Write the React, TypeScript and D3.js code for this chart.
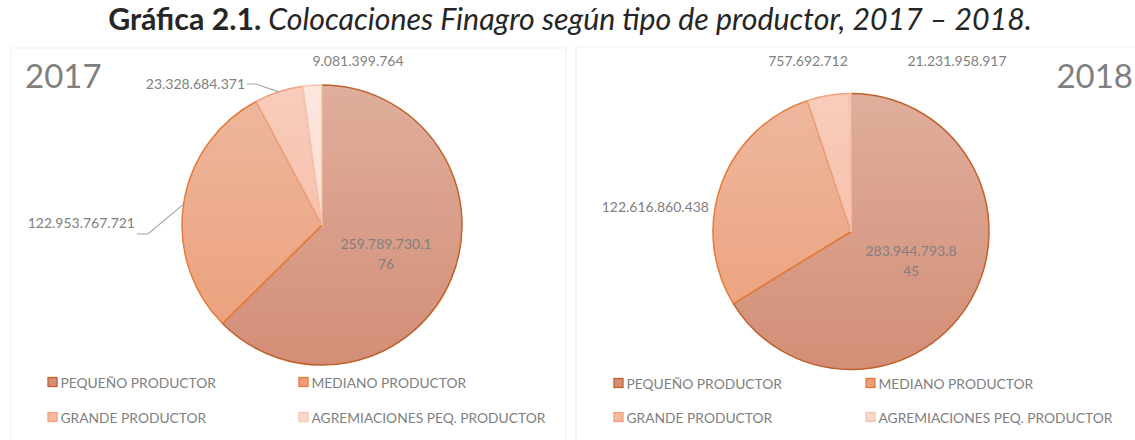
import React from "react";
import * as d3 from "d3";

const categories = [
  "PEQUEÑO PRODUCTOR",
  "MEDIANO PRODUCTOR",
  "GRANDE PRODUCTOR",
  "AGREMIACIONES PEQ. PRODUCTOR",
];
const values2017 = [259789730176, 122953767721, 23328684371, 9081399764];
const values2018 = [283944793845, 122616860438, 21231958917, 757692712];
const years = ["2017", "2018"];

const fillTop = ["#DFAE9C", "#EDB89F", "#F8CCBB", "#FCE6DE"];
const fillBottom = ["#D38E77", "#ED9E78", "#F6B8A0", "#FAD8CB"];
const strokes = ["#C0612B", "#E47B3A", "#EFA17F", "#F6C5B2"];

const fmt = (v: number) => d3.format(",")(v).replace(/,/g, ".");

type LabelCfg = {
  x: number;
  y: number;
  anchor: "start" | "middle" | "end";
  wrap?: boolean;
  leader?: [number, number][];
};

const charts = [
  {
    year: years[0],
    values: values2017,
    cx: 322,
    cy: 225,
    r: 140,
    frame: { x: 11, y: 48, w: 555, h: 400 },
    yearPos: { x: 25, y: 75, anchor: "start" as const },
    labels: [
      { x: 386, y: 253, anchor: "middle", wrap: true },
      { x: 135, y: 222, anchor: "end", leader: [[137, 234], [148, 234]] },
      { x: 245, y: 83, anchor: "end", leader: [[247, 84], [256, 84]] },
      { x: 358, y: 60, anchor: "middle" },
    ] as LabelCfg[],
    legend: { x1: 48, x2: 299, y1: 382, y2: 417 },
  },
  {
    year: years[1],
    values: values2018,
    cx: 851,
    cy: 231.5,
    r: 138,
    frame: { x: 576, y: 47, w: 570, h: 400 },
    yearPos: { x: 1133, y: 75, anchor: "end" as const },
    labels: [
      { x: 911, y: 260, anchor: "middle", wrap: true },
      { x: 709, y: 206, anchor: "end" },
      { x: 957, y: 60, anchor: "middle" },
      { x: 808, y: 60, anchor: "middle" },
    ] as LabelCfg[],
    legend: { x1: 614, x2: 866, y1: 383, y2: 417 },
  },
];

const labelColor = "#808080";
const font = "Lato, 'Open Sans', sans-serif";

function PieChart({ c, idx }: { c: (typeof charts)[number]; idx: number }) {
  const pie = d3
    .pie<number>()
    .sort(null)
    .value((d) => d)
    .startAngle(0)
    .endAngle(2 * Math.PI);
  const arcs = pie(c.values);
  const arc = d3.arc<d3.PieArcDatum<number>>().innerRadius(0).outerRadius(c.r);
  const edgeArc = d3
    .arc<d3.PieArcDatum<number>>()
    .innerRadius(c.r)
    .outerRadius(c.r);

  return (
    <g>
      <defs>
        {categories.map((_, i) => (
          <linearGradient
            key={i}
            id={`g${idx}-${i}`}
            gradientUnits="userSpaceOnUse"
            x1={0}
            y1={-c.r}
            x2={0}
            y2={c.r}
          >
            <stop offset="0" stopColor={fillTop[i]} />
            <stop offset="1" stopColor={fillBottom[i]} />
          </linearGradient>
        ))}
      </defs>
      <rect
        x={c.frame.x}
        y={c.frame.y}
        width={c.frame.w}
        height={c.frame.h}
        fill="none"
        stroke="#EFEFEF"
        strokeWidth={1}
      />
      <text
        x={c.yearPos.x}
        y={c.yearPos.y}
        textAnchor={c.yearPos.anchor}
        dominantBaseline="central"
        fontFamily={font}
        fontSize={33}
        fill="#7F7F7F"
      >
        {c.year}
      </text>
      <g transform={`translate(${c.cx},${c.cy})`}>
        {arcs.map((a, i) => (
          <path
            key={i}
            d={arc(a) || ""}
            fill={`url(#g${idx}-${i})`}
            stroke={strokes[i]}
            strokeWidth={1.5}
            strokeLinejoin="round"
          />
        ))}
      </g>
      {arcs.map((a, i) => {
        const L = c.labels[i];
        const s = fmt(c.values[i]);
        const lines = L.wrap ? [s.slice(0, 13), s.slice(13)] : [s];
        let leader = null;
        if (L.leader) {
          const [ex, ey] = edgeArc.centroid(a);
          const pts = [...L.leader, [c.cx + ex, c.cy + ey]] as [number, number][];
          leader = (
            <polyline
              points={pts.map((p) => p.join(",")).join(" ")}
              fill="none"
              stroke="#A6A6A6"
              strokeWidth={1.2}
            />
          );
        }
        return (
          <g key={i}>
            {leader}
            {lines.map((t, k) => (
              <text
                key={k}
                x={L.x}
                y={L.y + (lines.length > 1 ? (k - 0.5) * 20 : 0)}
                textAnchor={L.anchor}
                dominantBaseline="central"
                fontFamily={font}
                fontSize={14}
                fill={labelColor}
              >
                {t}
              </text>
            ))}
          </g>
        );
      })}
      {categories.map((cat, i) => {
        const x = i % 2 === 0 ? c.legend.x1 : c.legend.x2;
        const y = i < 2 ? c.legend.y1 : c.legend.y2;
        return (
          <g key={cat}>
            <rect
              x={x}
              y={y - 4.5}
              width={9}
              height={9}
              fill={fillBottom[i]}
              stroke={strokes[i]}
              strokeWidth={1.3}
            />
            <text
              x={x + 12.5}
              y={y}
              dominantBaseline="central"
              fontFamily={font}
              fontSize={13.8}
              fill={labelColor}
            >
              {cat}
            </text>
          </g>
        );
      })}
    </g>
  );
}

export default function App() {
  return (
    <svg
      width={1135}
      height={440}
      viewBox="0 0 1135 440"
      style={{ position: "absolute", left: 0, top: 0, background: "#FFFFFF" }}
    >
      <rect x={0} y={0} width={1135} height={440} fill="#FFFFFF" />
      <text
        x={570}
        y={30}
        textAnchor="middle"
        fontFamily={font}
        fontSize={30.3}
        fill="#262626"
      >
        <tspan fontWeight="bold">Gráfica 2.1.</tspan>
        <tspan fontStyle="italic"> Colocaciones Finagro según tipo de productor, 2017 – 2018.</tspan>
      </text>
      {charts.map((c, i) => (
        <PieChart key={c.year} c={c} idx={i} />
      ))}
    </svg>
  );
}
